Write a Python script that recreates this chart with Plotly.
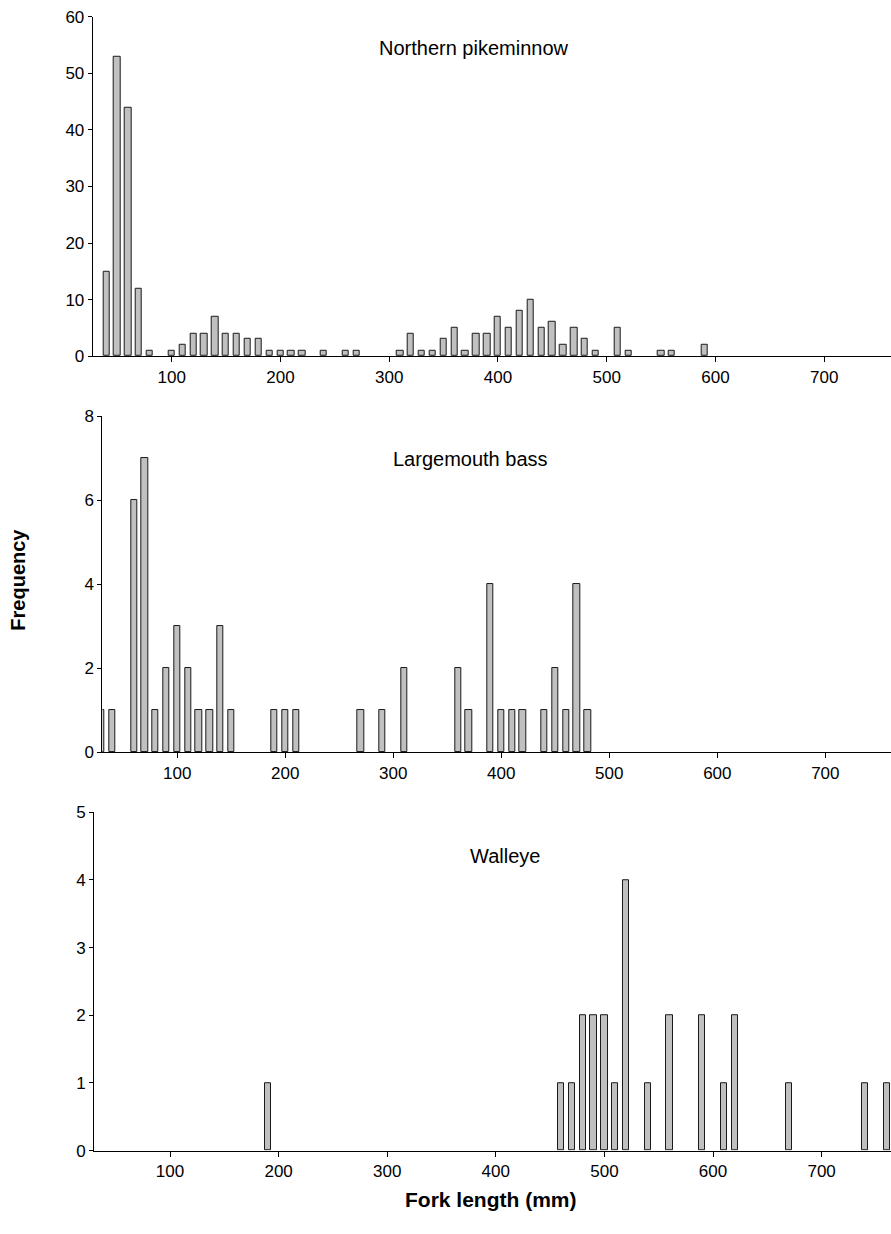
import plotly.graph_objects as go

W, H = 891, 1234

# ---- data ----
pike_len = [40, 50, 60, 70, 80, 100, 110, 120, 130, 140, 150, 160, 170, 180, 190, 200, 210, 220,
            240, 260, 270, 310, 320, 330, 340, 350, 360, 370, 380, 390, 400, 410, 420, 430,
            440, 450, 460, 470, 480, 490, 510, 520, 550, 560, 590]
pike_freq = [15, 53, 44, 12, 1, 1, 2, 4, 4, 7, 4, 4, 3, 3, 1, 1, 1, 1,
             1, 1, 1, 1, 4, 1, 1, 3, 5, 1, 4, 4, 7, 5, 8, 10,
             5, 6, 2, 5, 3, 1, 5, 1, 1, 1, 2]

bass_len = [30, 40, 60, 70, 80, 90, 100, 110, 120, 130, 140, 150, 190, 200, 210,
            270, 290, 310, 360, 370, 390, 400, 410, 420, 440, 450, 460, 470, 480]
bass_freq = [1, 1, 6, 7, 1, 2, 3, 2, 1, 1, 3, 1, 1, 1, 1,
             1, 1, 2, 2, 1, 4, 1, 1, 1, 1, 2, 1, 4, 1]

walleye_len = [190, 460, 470, 480, 490, 500, 510, 520, 540, 560, 590, 610, 620, 670, 740, 760]
walleye_freq = [1, 1, 1, 2, 2, 2, 1, 4, 1, 2, 2, 1, 2, 1, 1, 1]

species = ["Northern pikeminnow", "Largemouth bass", "Walleye"]
x_ticks = [100, 200, 300, 400, 500, 600, 700]
y_ticks = [
    [0, 10, 20, 30, 40, 50, 60],
    [0, 2, 4, 6, 8],
    [0, 1, 2, 3, 4, 5],
]
y_max = [60, 8, 5]

# ---- layout geometry (pixels) ----
FONT = "Liberation Sans, Arial, sans-serif"
panels = [
    dict(x0=92.7, yb=352.6, yt=7.9, xr=[27.4, 761.4], tx=474, ty=39.5),
    dict(x0=102.3, yb=755.0, yt=413.4, xr=[30.6, 760.8], tx=470, ty=457),
    dict(x0=94.0, yb=1159.4, yt=815.8, xr=[30.0, 763.9], tx=505, ty=860),
]
series = [(pike_len, pike_freq), (bass_len, bass_freq), (walleye_len, walleye_freq)]

fig = go.Figure()
layout = dict(
    width=W, height=H,
    margin=dict(l=0, r=0, t=0, b=0),
    paper_bgcolor="white", plot_bgcolor="white",
    showlegend=False,
    font=dict(family=FONT, size=17, color="black"),
    bargap=0,
)
annotations = []
for i, (p, (xs, ys)) in enumerate(zip(panels, series)):
    n = "" if i == 0 else str(i + 1)
    fig.add_trace(go.Bar(
        x=xs, y=ys, width=5.8,
        marker=dict(color="#c0c0c0", line=dict(color="#1a1a1a", width=1)),
        xaxis="x" + n, yaxis="y" + n,
        cliponaxis=True,
    ))
    layout["xaxis" + n] = dict(
        domain=[p["x0"] / W, 1.0], range=p["xr"], anchor="y" + n,
        tickvals=x_ticks, ticks="outside", ticklen=5, tickwidth=1, tickcolor="black",
        showline=True, linecolor="black", linewidth=1,
        showgrid=False, zeroline=False,
        tickfont=dict(family=FONT, size=17, color="black"),
        fixedrange=True,
    )
    layout["yaxis" + n] = dict(
        domain=[1 - p["yb"] / H, 1 - p["yt"] / H], range=[0, y_max[i]], anchor="x" + n,
        tickvals=y_ticks[i], ticks="outside", ticklen=4, tickwidth=1, tickcolor="black",
        showline=True, linecolor="black", linewidth=1,
        showgrid=False, zeroline=False,
        tickfont=dict(family=FONT, size=17, color="black"),
        fixedrange=True,
    )
    annotations.append(dict(
        text=species[i], x=p["tx"] / W, y=1 - p["ty"] / H,
        xref="paper", yref="paper", xanchor="center", yanchor="middle",
        showarrow=False, font=dict(family=FONT, size=20, color="black"),
    ))

annotations.append(dict(
    text="<b>Frequency</b>", x=18 / W, y=1 - 579.6 / H, xref="paper", yref="paper",
    xanchor="center", yanchor="middle", textangle=-90, showarrow=False,
    font=dict(family=FONT, size=20, color="black"),
))
annotations.append(dict(
    text="<b>Fork length (mm)</b>", x=491 / W, y=1 - 1209 / H, xref="paper", yref="paper",
    xanchor="center", yanchor="middle", showarrow=False,
    font=dict(family=FONT, size=21, color="black"),
))
layout["annotations"] = annotations
fig.update_layout(**layout)

fig.write_html(
    "out.html",
    config={"displayModeBar": False},
    post_script="document.body.style.margin='0';document.body.style.overflow='hidden';",
)
